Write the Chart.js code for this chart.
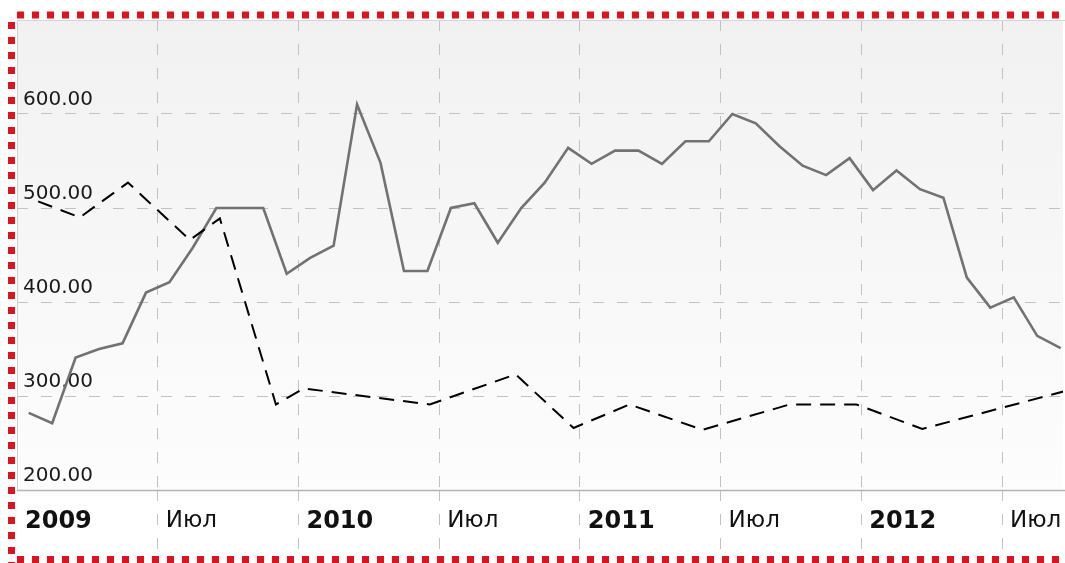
<!DOCTYPE html>
<html>
<head>
<meta charset="utf-8">
<script src="https://cdn.jsdelivr.net/npm/chart.js@4"></script>
<style>
    body { margin: 0; background: #fff; }
    #wrap { width: 1065px; height: 563px; position: relative; }
</style>
</head>
<body>
<div id="wrap"><canvas id="chart"></canvas></div>
<script>
// Серая линия: помесячные значения, янв 2009 - сен 2012
const priceValues = [
    282, 271, 341, 350, 356, 410, 421, 458, 500, 500, 500, 430,
    447, 460, 610, 548, 433, 433, 500, 505, 463, 500, 527, 564,
    547, 561, 561, 547, 571, 571, 600, 590, 566, 545, 535, 553,
    519, 540, 520, 511, 426, 394, 405, 364, 351
];

// Пунктир: позиции (месяцев от янв 2009) и значения
const dashPositions = [0.9, 2.68, 4.73, 7.37, 8.65, 11.04, 12.23, 17.6, 21.26, 23.73, 26.12, 29.23, 32.94, 35.79, 38.6, 44.65];
const dashValues = [507, 490, 527, 466, 489, 291, 308, 291, 323, 266, 291, 264, 291, 291, 265, 305];

// Подписи оси X
const xTickValues = [0, 6, 12, 18, 24, 30, 36, 42];
const xTickLabels = ['2009', 'Июл', '2010', 'Июл', '2011', 'Июл', '2012', 'Июл'];

const gridColor = '#c2c2c2';
const gridDash = [11, 13];

// Фон области графика, рамка и красная пунктирная граница
const framePlugin = {
    id: 'frame',
    beforeDraw(chart) {
        const { ctx, chartArea: a } = chart;
        const g = ctx.createLinearGradient(0, a.top, 0, a.bottom);
        g.addColorStop(0, '#f1f1f1');
        g.addColorStop(1, '#fdfdfd');
        ctx.save();
        ctx.fillStyle = g;
        ctx.fillRect(a.left, a.top, a.right - a.left, a.bottom - a.top);
        ctx.restore();
    },
    beforeDatasetsDraw(chart) {
        const { ctx, chartArea: a } = chart;
        ctx.save();
        ctx.lineWidth = 1;
        ctx.strokeStyle = '#d6d6d6';
        ctx.beginPath();
        ctx.moveTo(a.left, a.top + 0.5);
        ctx.lineTo(a.right + 2, a.top + 0.5);
        ctx.stroke();
        ctx.strokeStyle = '#d0d0d0';
        ctx.beginPath();
        ctx.moveTo(a.left + 0.5, a.top);
        ctx.lineTo(a.left + 0.5, a.bottom);
        ctx.stroke();
        ctx.strokeStyle = '#b4b4b4';
        ctx.lineWidth = 1.5;
        ctx.beginPath();
        ctx.moveTo(a.left, a.bottom + 0.5);
        ctx.lineTo(a.right + 2, a.bottom + 0.5);
        ctx.stroke();
        ctx.restore();
    },
    afterDraw(chart) {
        const { ctx, width, height } = chart;
        ctx.save();
        ctx.strokeStyle = '#dc1420';
        ctx.lineWidth = 7;
        ctx.lineCap = 'butt';
        ctx.setLineDash([7, 8]);
        ctx.beginPath();
        ctx.moveTo(17, 15);
        ctx.lineTo(width, 15);
        ctx.moveTo(11.5, 22);
        ctx.lineTo(11.5, height);
        ctx.moveTo(17, 559.5);
        ctx.lineTo(width, 559.5);
        ctx.stroke();
        ctx.restore();
    }
};

const ctx = document.getElementById('chart').getContext('2d');
new Chart(ctx, {
    type: 'line',
    data: {
        datasets: [
            {
                label: 'Цена',
                data: priceValues.map((v, i) => ({ x: i + 0.5, y: v })),
                borderColor: '#727272',
                borderWidth: 2.6,
                pointRadius: 0,
                tension: 0,
                order: 1
            },
            {
                label: 'Прогноз',
                data: dashPositions.map((x, i) => ({ x: x, y: dashValues[i] })),
                borderColor: '#000',
                borderWidth: 2,
                borderDash: [15, 9],
                pointRadius: 0,
                tension: 0,
                order: 0
            }
        ]
    },
    options: {
        responsive: true,
        maintainAspectRatio: false,
        animation: false,
        layout: { padding: { left: 17, top: 20, right: 2, bottom: 13 } },
        plugins: {
            legend: { display: false },
            tooltip: { enabled: false }
        },
        scales: {
            x: {
                type: 'linear',
                min: 0,
                max: 44.6,
                afterBuildTicks: s => { s.ticks = xTickValues.map(v => ({ value: v })); },
                afterFit: s => { s.height = 60; },
                grid: {
                    color: gridColor,
                    tickLength: 60,
                    tickColor: c => (c.tick && c.tick.value === 0) ? 'rgba(0,0,0,0)' : gridColor,
                    tickBorderDash: gridDash
                },
                border: { display: false, dash: gridDash },
                ticks: {
                    align: 'start',
                    labelOffset: 8,
                    padding: -43,
                    maxRotation: 0,
                    autoSkip: false,
                    color: '#111',
                    callback: (v, i) => xTickLabels[i],
                    font: c => /^\d{4}$/.test(xTickLabels[c.index])
                        ? { family: 'DejaVu Sans', size: 24, weight: 'bold' }
                        : { family: 'DejaVu Sans', size: 23 }
                }
            },
            y: {
                min: 200,
                max: 700,
                afterFit: s => { s.width = 0; },
                grid: { color: gridColor, drawTicks: false },
                border: { display: false, dash: gridDash },
                ticks: {
                    stepSize: 100,
                    mirror: true,
                    padding: 6,
                    labelOffset: -14,
                    color: '#1a1a1a',
                    font: { family: 'DejaVu Sans', size: 20 },
                    callback: v => v === 700 ? '' : v.toFixed(2)
                }
            }
        }
    },
    plugins: [framePlugin]
});
</script>
</body>
</html>
